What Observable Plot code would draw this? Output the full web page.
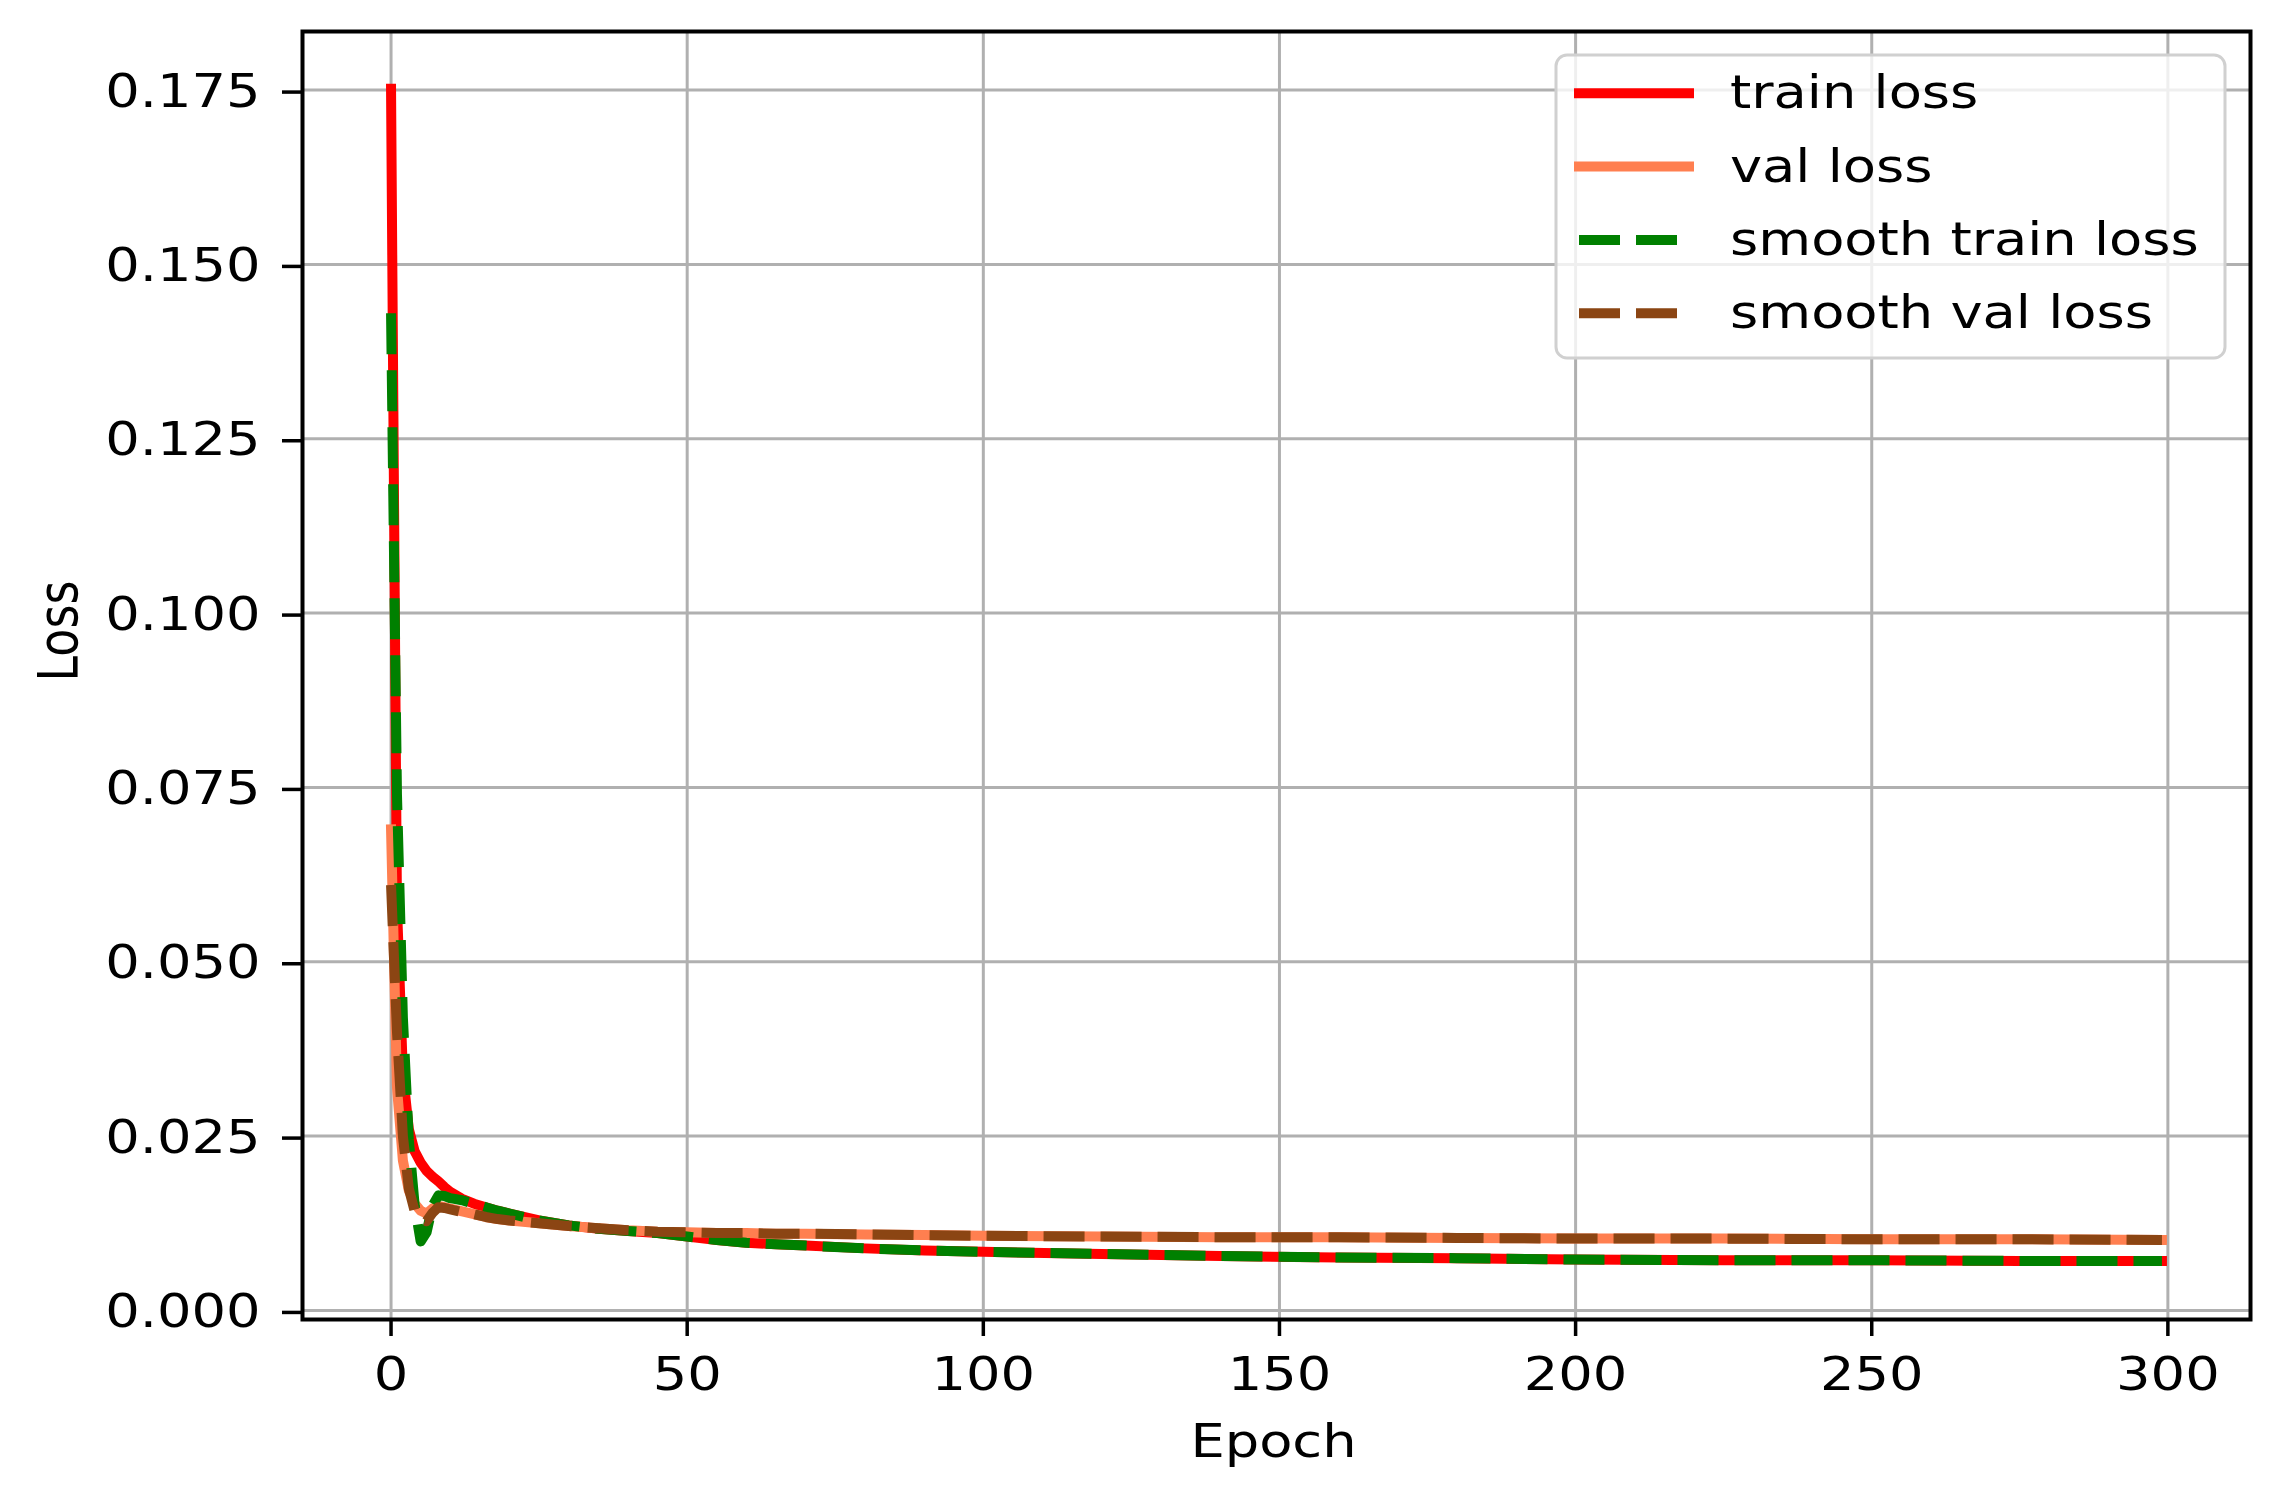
<!DOCTYPE html>
<html>
<head>
<meta charset="utf-8">
<script src="https://cdn.jsdelivr.net/npm/d3@7"></script>
<script src="https://cdn.jsdelivr.net/npm/@observablehq/plot@0.6"></script>
<style>
html, body { margin: 0; padding: 0; background: #fff; }
svg { display: block; }
</style>
</head>
<body>
<div id="chart"></div>
<script>
const epochs = [0,1,2,3,4,5,6,7,8,9,10,12,14,16,18,20,25,30,35,40,45,50,55,60,65,70,80,90,100,120,140,160,180,200,225,250,275,299];

const trainLoss = [0.1752,0.058,0.034,0.026,0.0228,0.0212,0.0200,0.0192,0.0185,0.0177,0.0170,0.0160,0.0153,0.0148,0.0143,0.0139,0.0129,0.0122,0.0117,0.0114,0.0111,0.0106,0.0101,0.0097,0.0095,0.0093,0.0089,0.0086,0.0084,0.0081,0.0078,0.0076,0.0075,0.0073,0.0072,0.0072,0.0071,0.0071];

const valLoss = [0.069,0.032,0.0215,0.0172,0.0153,0.0143,0.0139,0.0146,0.0150,0.0148,0.0146,0.0142,0.0138,0.0134,0.0131,0.0129,0.0125,0.0121,0.0118,0.0115,0.0113,0.0112,0.0111,0.0111,0.0110,0.0110,0.0109,0.0108,0.0107,0.0106,0.0105,0.0105,0.0104,0.0103,0.0103,0.0102,0.0102,0.0101];

const smoothTrainLoss = [0.143,0.074,0.042,0.0245,0.0150,0.0099,0.0112,0.0150,0.0165,0.0164,0.0161,0.0158,0.0153,0.0148,0.0143,0.0139,0.0129,0.0122,0.0117,0.0114,0.0111,0.0106,0.0101,0.0097,0.0095,0.0093,0.0089,0.0086,0.0084,0.0081,0.0078,0.0076,0.0075,0.0073,0.0072,0.0072,0.0071,0.0071];

const smoothValLoss = [0.061,0.040,0.025,0.0175,0.0142,0.0131,0.0128,0.0140,0.0148,0.0147,0.0145,0.0141,0.0138,0.0134,0.0131,0.0129,0.0125,0.0121,0.0118,0.0115,0.0113,0.0112,0.0111,0.0111,0.0110,0.0110,0.0109,0.0108,0.0107,0.0106,0.0105,0.0105,0.0104,0.0103,0.0103,0.0102,0.0102,0.0101];

const xTicks = [0,50,100,150,200,250,300];
const yTicks = [0,0.025,0.05,0.075,0.1,0.125,0.15,0.175];

const seriesNames = ["train loss","val loss","smooth train loss","smooth val loss"];
const seriesColors = ["#ff0000","#ff7f50","#008000","#8b4513"];
const seriesDashed = [false,false,true,true];
const seriesValues = [trainLoss, valLoss, smoothTrainLoss, smoothValLoss];

const xLabel = "Epoch";
const yLabel = "Loss";

const FONT = "DejaVu Sans";
const FS = 46;
const STRETCH = 1.18;
const LW = 10;
const DASH = "41,16";

const rows = (vals) => epochs.map((e, i) => ({epoch: e, loss: vals[i]}));

const lineMarks = seriesValues.map((vals, i) => Plot.line(rows(vals), {
  x: "epoch", y: "loss",
  stroke: seriesColors[i],
  strokeWidth: LW,
  strokeLinejoin: "round",
  strokeLinecap: seriesDashed[i] ? "butt" : "square",
  strokeDasharray: seriesDashed[i] ? DASH : null
}));

const chart = Plot.plot({
  width: 2287,
  height: 1507,
  marginLeft: 302,
  marginRight: 37,
  marginTop: 31,
  marginBottom: 188,
  style: {fontFamily: FONT, fontSize: FS + "px", color: "#000", background: "#fff"},
  x: {domain: [-14.95, 313.95]},
  y: {domain: [-0.0013, 0.1834]},
  marks: [
    Plot.gridX(xTicks, {stroke: "#b0b0b0", strokeOpacity: 1, strokeWidth: 3}),
    Plot.gridY(yTicks, {stroke: "#b0b0b0", strokeOpacity: 1, strokeWidth: 3}),
    ...lineMarks,
    Plot.frame({stroke: "#000", strokeWidth: 4}),
    Plot.axisX(xTicks, {tickSize: 17, tickPadding: 21, strokeWidth: 3.5, fontSize: FS, label: null, tickFormat: d => String(d)}),
    Plot.axisY(yTicks, {tickSize: 20, tickPadding: 22, strokeWidth: 3.5, fontSize: FS, label: null, tickFormat: d3.format(".3f"), dy: 2}),
    Plot.text([xLabel], {text: d => d, frameAnchor: "bottom", lineAnchor: "middle", dy: 123, dx: -3, fontSize: FS, fill: "#000"}),
    Plot.text([yLabel], {text: d => d, frameAnchor: "left", lineAnchor: "middle", rotate: -90, dx: -243, dy: 6, fontSize: FS, fill: "#000"})
  ]
});

document.getElementById("chart").appendChild(chart);

// Legend (upper right, matplotlib style)
const svg = d3.select(chart);
const lg = svg.append("g")
  .attr("font-family", FONT).attr("font-size", FS)
  .attr("fill", "#000").attr("text-anchor", "start");
lg.append("rect")
  .attr("x", 1556).attr("y", 55).attr("width", 669).attr("height", 303)
  .attr("rx", 11).attr("ry", 11)
  .attr("fill", "#fff").attr("fill-opacity", 0.8)
  .attr("stroke", "#d0d0d0").attr("stroke-width", 3);
seriesNames.forEach((name, i) => {
  const cy = 93.3 + i * 73.3;
  lg.append("line")
    .attr("x1", seriesDashed[i] ? 1579 : 1574).attr("x2", seriesDashed[i] ? 1678 : 1694)
    .attr("y1", cy).attr("y2", cy)
    .attr("stroke", seriesColors[i]).attr("stroke-width", LW)
    .attr("stroke-dasharray", seriesDashed[i] ? DASH : null)
    .attr("stroke-linecap", "butt");
  lg.append("text")
    .attr("text-anchor", "start")
    .attr("transform", `translate(1730,${cy + 15})`)
    .text(name);
});

// Horizontal stretch of all text, as in the reference image
svg.selectAll("text").each(function() {
  const x = this.getAttribute("x");
  let pre = "";
  if (x !== null && !/em/.test(x)) { pre = `translate(${x},0) `; this.removeAttribute("x"); }
  const tr = (pre + (this.getAttribute("transform") || "")).trim();
  const rot = /rotate/.test(tr);
  this.setAttribute("transform", tr + (rot ? ` scale(1,${STRETCH})` : ` scale(${STRETCH},1)`));
});
</script>
</body>
</html>
